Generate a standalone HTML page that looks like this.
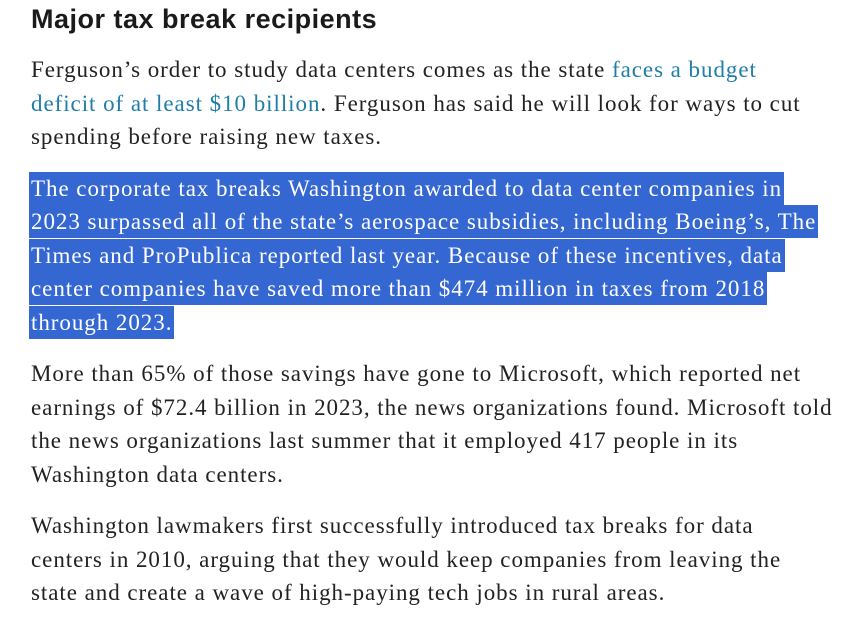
<!DOCTYPE html>
<html><head><meta charset="utf-8">
<style>
body{margin:0;background:#fff;width:860px;height:626px;overflow:hidden}
h2{position:absolute;left:31px;top:0;margin:0;font:bold 27px/38px "Liberation Sans",sans-serif;color:#1a1a1a;letter-spacing:0.5px}
.c{position:absolute;left:31px;top:53px;width:829px}
p{margin:0 0 18px 0;font:23px/33.5px "Liberation Serif",serif;color:#222;white-space:nowrap;letter-spacing:0.95px}
a{color:#1f7ea8;text-decoration:none}
.hl{background:#3567d3;color:#fff;padding:4px 2px;-webkit-box-decoration-break:clone;box-decoration-break:clone;margin-left:-2px}
</style></head><body>
<h2>Major tax break recipients</h2>
<div class="c">
<p>Ferguson’s order to study data centers comes as the state <a href="#">faces a budget<br>deficit of at least $10 billion</a>. Ferguson has said he will look for ways to cut<br>spending before raising new taxes.</p>
<p><span class="hl">The corporate tax breaks Washington awarded to data center companies in<br>2023 surpassed all of the state’s aerospace subsidies, including Boeing’s, The<br>Times and ProPublica reported last year. Because of these incentives, data<br>center companies have saved more than $474 million in taxes from 2018<br>through 2023.</span></p>
<p>More than 65% of those savings have gone to Microsoft, which reported net<br>earnings of $72.4 billion in 2023, the news organizations found. Microsoft told<br>the news organizations last summer that it employed 417 people in its<br>Washington data centers.</p>
<p>Washington lawmakers first successfully introduced tax breaks for data<br>centers in 2010, arguing that they would keep companies from leaving the<br>state and create a wave of high-paying tech jobs in rural areas.</p>
</div>
</body></html>
